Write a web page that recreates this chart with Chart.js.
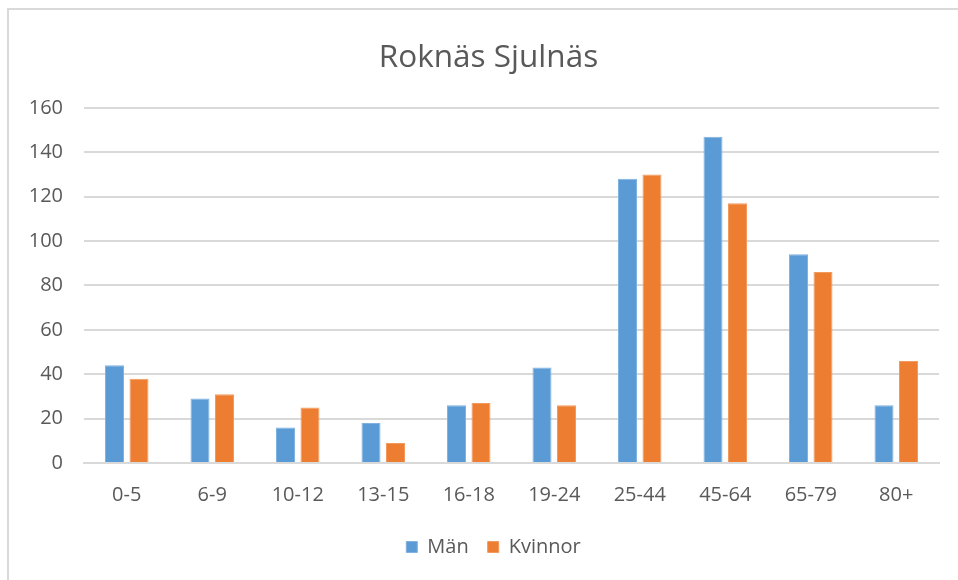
<!DOCTYPE html>
<html>
<head>
<meta charset="utf-8">
<script src="https://cdn.jsdelivr.net/npm/chart.js@4"></script>
<style>
  html, body { margin: 0; padding: 0; background: #fff; overflow: hidden; }
  #wrap { position: absolute; left: 0; top: 0; width: 958px; height: 580px; }
  #frame { position: absolute; left: 7px; top: 8px; width: 1000px; height: 1000px; border: 2px solid #d9d9d9; box-sizing: border-box; }
</style>
</head>
<body>
<div id="frame"></div>
<div id="wrap"><canvas id="c" width="958" height="580"></canvas></div>
<script>
const categories = ["0-5", "6-9", "10-12", "13-15", "16-18", "19-24", "25-44", "45-64", "65-79", "80+"];
const manValues = [44, 29, 16, 18, 26, 43, 128, 147, 94, 26];
const kvinnorValues = [38, 31, 25, 9, 27, 26, 130, 117, 86, 46];
const seriesNames = ["Män", "Kvinnor"];
const chartTitle = "Roknäs Sjulnäs";

const FONT = "'Open Sans', 'Segoe UI', sans-serif";
const TXT = "#595959";

// The title and legend in the reference are centred on the full chart frame,
// which is slightly right of the plot's centre.
const shiftBoxes = {
  id: "shiftBoxes",
  afterLayout(chart) {
    if (chart.titleBlock) { chart.titleBlock.left += 19; chart.titleBlock.right += 19; }
    if (chart.legend) { chart.legend.left += 24; chart.legend.right += 24; }
  }
};

new Chart(document.getElementById("c"), {
  type: "bar",
  data: {
    labels: categories,
    datasets: [
      { label: seriesNames[0], data: manValues, backgroundColor: "#5B9BD5", borderColor: "#7fb2e0", borderWidth: 1 },
      { label: seriesNames[1], data: kvinnorValues, backgroundColor: "#ED7D31", borderColor: "#f29a5e", borderWidth: 1 }
    ]
  },
  plugins: [shiftBoxes],
  options: {
    responsive: false,
    animation: false,
    devicePixelRatio: 1,
    layout: { padding: { left: 0, right: 19, top: 0, bottom: 13 } },
    datasets: { bar: { categoryPercentage: 0.573, barPercentage: 0.776 } },
    plugins: {
      title: {
        display: true,
        text: chartTitle,
        color: TXT,
        font: { family: FONT, size: 31.5, weight: "normal" },
        padding: { top: 39, bottom: 31 }
      },
      legend: {
        display: true,
        position: "bottom",
        labels: {
          color: TXT,
          font: { family: FONT, size: 20 },
          boxWidth: 11,
          boxHeight: 11,
          padding: 19
        }
      },
      tooltip: { enabled: false }
    },
    scales: {
      x: {
        grid: { display: false },
        border: { display: true, color: "#d9d9d9", width: 2 },
        ticks: { color: TXT, font: { family: FONT, size: 20 }, padding: 12, maxRotation: 0 },
        afterFit: (s) => { s.height = 55; }
      },
      y: {
        min: 0,
        max: 160,
        ticks: { stepSize: 20, color: TXT, font: { family: FONT, size: 20 }, padding: 21 },
        grid: { color: "#d9d9d9", lineWidth: 2, drawTicks: false },
        border: { display: false },
        afterFit: (s) => { s.width = 84; }
      }
    }
  }
});
</script>
</body>
</html>
